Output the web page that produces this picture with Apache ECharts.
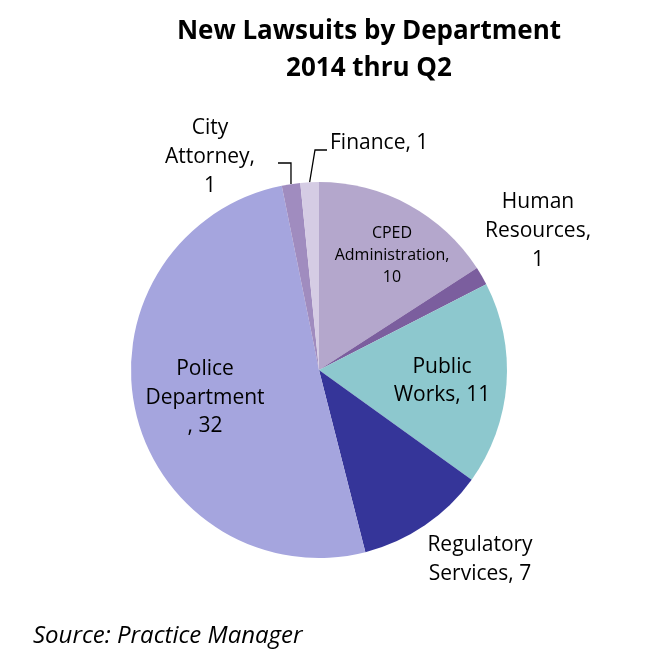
<!DOCTYPE html>
<html>
<head>
<meta charset="utf-8">
<script src="https://cdn.jsdelivr.net/npm/echarts@6/dist/echarts.min.js"></script>
<style>
  html, body { margin: 0; padding: 0; background: #fff; }
  #chart { width: 670px; height: 664px; }
</style>
</head>
<body>
<div id="chart"></div>
<script>
// data, clockwise from 12 o'clock
const departments = ['CPED Administration', 'Human Resources', 'Public Works', 'Regulatory Services', 'Police Department', 'City Attorney', 'Finance'];
const lawsuits = [10, 1, 11, 7, 32, 1, 1];
const labelTexts = ['CPED\nAdministration,\n10', 'Human\nResources,\n1', 'Public\nWorks, 11', 'Regulatory\nServices, 7', 'Police\nDepartment\n, 32', 'City\nAttorney,\n1', 'Finance, 1'];
const sliceColors = ['#b4a7cc', '#7b5e9e', '#8dc8ce', '#353599', '#a5a5de', '#a08cbf', '#d5cce4'];

const FONT = '"Open Sans", sans-serif';
const CX = 319, CY = 370, R = 188;

// where each label sits and how it is styled
const labelPlace = [
  {x: 392, y: 255, align: 'center', size: 16, lh: 22},
  {x: 538, y: 231, align: 'center', size: 21, lh: 29},
  {x: 442, y: 381, align: 'center', size: 21, lh: 28},
  {x: 480, y: 560, align: 'center', size: 21, lh: 29},
  {x: 205, y: 398, align: 'center', size: 21, lh: 28.5},
  {x: 210, y: 157, align: 'center', size: 21, lh: 29},
  {x: 330, y: 143, align: 'left', size: 21, lh: 29}
];

const total = lawsuits.reduce((a, b) => a + b, 0);
function edgePoint(i) {
  let before = 0;
  for (let k = 0; k < i; k++) before += lawsuits[k];
  const ang = (before + lawsuits[i] / 2) / total * Math.PI * 2;
  return [CX + R * Math.sin(ang), CY - R * Math.cos(ang)];
}

const chart = echarts.init(document.getElementById('chart'), null, {renderer: 'canvas'});

chart.setOption({
  backgroundColor: '#fff',
  animation: false,
  title: {
    text: 'New Lawsuits by Department\n2014 thru Q2',
    left: 364,
    top: 8,
    textAlign: 'center',
    textStyle: {fontFamily: FONT, fontSize: 26, fontWeight: 'bold', color: '#000', lineHeight: 37}
  },
  graphic: [{
    type: 'text',
    left: 33,
    top: 624,
    style: {text: 'Source: Practice Manager', font: 'italic 24px ' + FONT, fill: '#000'}
  }],
  series: [{
    type: 'pie',
    center: [CX, CY],
    radius: R,
    startAngle: 90,
    clockwise: true,
    itemStyle: {borderWidth: 0},
    emphasis: {disabled: true},
    label: {
      show: true,
      position: 'outside',
      color: '#000',
      fontFamily: FONT,
      formatter: p => labelTexts[p.dataIndex]
    },
    labelLine: {show: false, lineStyle: {color: '#000', width: 1.3}, smooth: false},
    labelLayout: function (params) {
      const i = params.dataIndex;
      const pl = labelPlace[i];
      const out = {x: pl.x, y: pl.y, align: pl.align, verticalAlign: 'middle', fontSize: pl.size};
      if (departments[i] === 'City Attorney') {
        const e = edgePoint(i);
        out.labelLinePoints = [[e[0], e[1]], [e[0], 163], [278, 163]];
      } else if (departments[i] === 'Finance') {
        const e = edgePoint(i);
        out.labelLinePoints = [[e[0], e[1]], [315, 150], [327, 150]];
      }
      return out;
    },
    data: departments.map((name, i) => ({
      name: name,
      value: lawsuits[i],
      itemStyle: {color: sliceColors[i]},
      label: {
        position: [0, 1, 2, 4].includes(i) ? 'inside' : 'outside',
        fontSize: labelPlace[i].size,
        lineHeight: labelPlace[i].lh,
        align: labelPlace[i].align
      },
      labelLine: {show: name === 'City Attorney' || name === 'Finance'}
    }))
  }]
});
</script>
</body>
</html>
